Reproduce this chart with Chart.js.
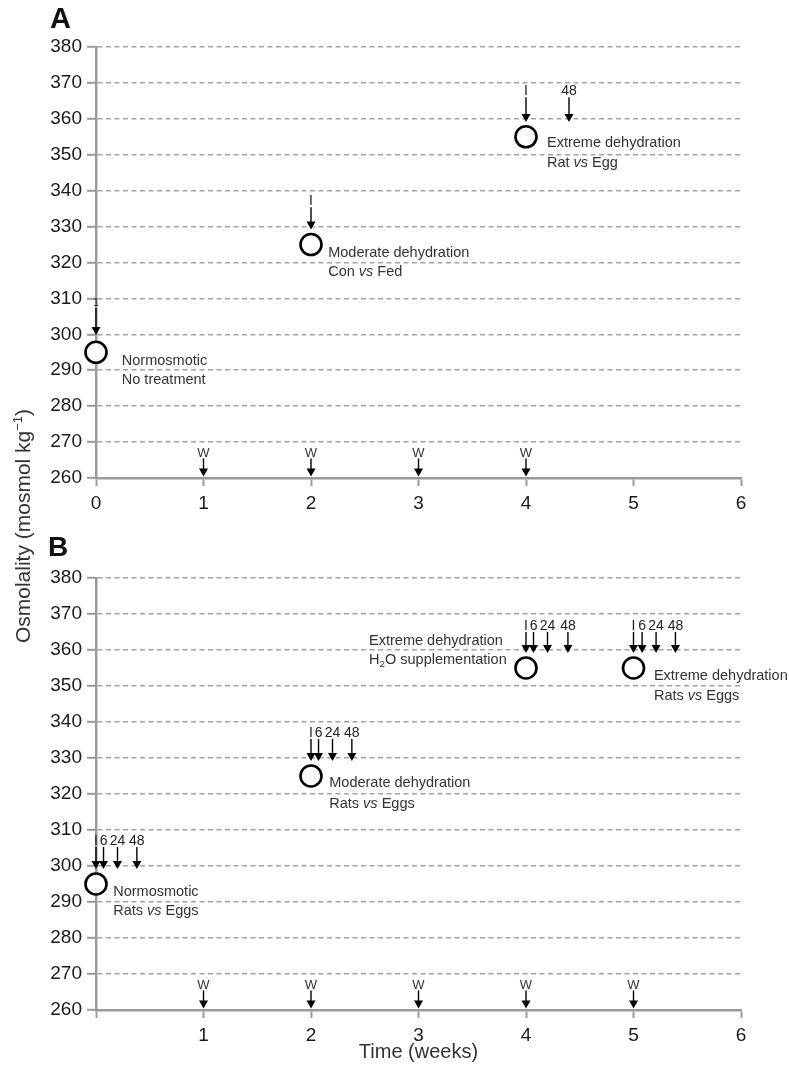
<!DOCTYPE html>
<html>
<head>
<meta charset="utf-8">
<script src="https://cdn.jsdelivr.net/npm/chart.js@4.4.1/dist/chart.umd.min.js"></script>
<style>
  body { margin: 0; background: #fff; }
  #wrap { position: relative; width: 789px; height: 1070px; font-family: "Liberation Sans", Arial, sans-serif; }
  canvas { position: absolute; left: 0; }
  #chartA { top: 0; }
  #chartB { top: 530px; }
  .panel { position: absolute; font-weight: bold; line-height: 1; color: #111; }
  #ytitle { position: absolute; left: 22px; top: 526px; transform: translate(-50%, -50%) rotate(-90deg);
            white-space: nowrap; font-size: 21px; color: #333; }
  #ytitle sup { font-size: 13px; }
</style>
</head>
<body>
<div id="wrap">
  <canvas id="chartA" width="789" height="530"></canvas>
  <canvas id="chartB" width="789" height="540"></canvas>
  <div class="panel" style="left:50px; top:4px; font-size:29px;">A</div>
  <div class="panel" style="left:48px; top:533px; font-size:28px;">B</div>
  <div id="ytitle">Osmolality (mosmol kg<sup>−1</sup>)</div>
</div>
<script>
Chart.defaults.font.family = '"Liberation Sans", Arial, sans-serif';
Chart.defaults.color = "#1a1a1a";

// axes
const weekTicks = [0, 1, 2, 3, 4, 5, 6];
const osmTicks = [260, 270, 280, 290, 300, 310, 320, 330, 340, 350, 360, 370, 380];

// panel A: sampling points
const pointsA_week = [0, 2, 4];
const pointsA_osm = [295, 325, 355];
// panel A: arrows (I = injection, 48 h)
const arrowsA_week = [0, 2, 4, 4.4];
const arrowsA_top = [307.3, 335.4, 366, 366];
const arrowsA_tip = [299.8, 329.2, 359.1, 359.1];
const arrowsA_label = ["1", "I", "I", "48"];
// panel A: weighing arrows
const waterA_week = [1, 2, 3, 4];
// panel A: notes
const notesA_week = [0.24, 0.24, 2.16, 2.16, 4.195, 4.195];
const notesA_osm = [292.6, 287.3, 322.65, 317.4, 353.3, 347.7];
const notesA_text = ["Normosmotic", "No treatment", "Moderate dehydration", "Con *vs* Fed",
                     "Extreme dehydration", "Rat *vs* Egg"];

// panel B: sampling points
const pointsB_week = [0, 2, 4, 5];
const pointsB_osm = [295, 325, 355, 355];
// panel B: arrows
const arrowsB_week = [0, 0.07, 0.2, 0.38, 2, 2.07, 2.2, 2.38, 4, 4.07, 4.2, 4.39, 5, 5.08, 5.21, 5.39];
const arrowsB_top = [305.3, 305.3, 305.3, 305.3, 335.3, 335.3, 335.3, 335.3,
                     365, 365, 365, 365, 365, 365, 365, 365];
const arrowsB_tip = [299.2, 299.2, 299.2, 299.2, 329.2, 329.2, 329.2, 329.2,
                     359.2, 359.2, 359.2, 359.2, 359.2, 359.2, 359.2, 359.2];
const arrowsB_label = ["I", "6", "24", "48", "I", "6", "24", "48",
                       "I", "6", "24", "48", "I", "6", "24", "48"];
const waterB_week = [1, 2, 3, 4, 5];
const notesB_week = [0.16, 0.16, 2.17, 2.17, 2.54, 2.54, 5.19, 5.19];
const notesB_osm = [292.8, 287.5, 323.1, 317.2, 362.5, 357.2, 352.8, 347.2];
const notesB_text = ["Normosmotic", "Rats *vs* Eggs", "Moderate dehydration", "Rats *vs* Eggs",
                     "Extreme dehydration", "H_2_O supplementation", "Extreme dehydration", "Rats *vs* Eggs"];

// weighing arrow span
const waterTop = 266;
const waterTip = 260.4;

const FONT = '"Liberation Sans", Arial, sans-serif';

function drawRich(ctx, text, x, y, size) {
  // *..* italic, _.._ subscript
  const parts = text.split(/(\*[^*]+\*|_[^_]+_)/).filter(Boolean);
  let cx = x;
  parts.forEach((part) => {
    let style = "";
    let sz = size;
    let dy = 0;
    let t = part;
    if (part[0] === "*") {
      style = "italic ";
      t = part.slice(1, -1);
    } else if (part[0] === "_") {
      sz = size * 0.68;
      dy = size * 0.28;
      t = part.slice(1, -1);
    }
    ctx.font = `${style}${sz}px ${FONT}`;
    ctx.fillText(t, cx, y + dy);
    cx += ctx.measureText(t).width;
  });
}

function drawArrow(ctx, px, pTop, pTip) {
  const headH = 8;
  const headW = 4.5;
  ctx.beginPath();
  ctx.moveTo(px, pTop);
  ctx.lineTo(px, pTip - headH + 1);
  ctx.stroke();
  ctx.beginPath();
  ctx.moveTo(px - headW, pTip - headH);
  ctx.lineTo(px + headW, pTip - headH);
  ctx.lineTo(px, pTip);
  ctx.closePath();
  ctx.fill();
}

const annotate = {
  id: "annotate",
  afterDatasetsDraw(chart, args, opts) {
    const { ctx } = chart;
    const x = chart.scales.x;
    const y = chart.scales.y;
    ctx.save();
    ctx.strokeStyle = "#000";
    ctx.fillStyle = "#000";
    ctx.lineWidth = 1.4;

    opts.arrowWeek.forEach((w, i) => {
      const px = x.getPixelForValue(w);
      const top = y.getPixelForValue(opts.arrowTop[i]);
      drawArrow(ctx, px, top, y.getPixelForValue(opts.arrowTip[i]));
      ctx.fillStyle = "#222";
      ctx.font = (opts.arrowLabel[i] === "1" ? "10px " : "14px ") + FONT;
      ctx.textAlign = "center";
      ctx.textBaseline = "alphabetic";
      ctx.fillText(opts.arrowLabel[i], px, top - 2);
      ctx.fillStyle = "#000";
    });

    opts.waterWeek.forEach((w) => {
      const px = x.getPixelForValue(w);
      const top = y.getPixelForValue(waterTop) + 2;
      drawArrow(ctx, px, top, y.getPixelForValue(waterTip));
      ctx.fillStyle = "#333";
      ctx.font = "13px " + FONT;
      ctx.textAlign = "center";
      ctx.textBaseline = "alphabetic";
      ctx.fillText("W", px, top - 1);
      ctx.fillStyle = "#000";
    });

    ctx.fillStyle = "#333";
    ctx.textAlign = "left";
    ctx.textBaseline = "middle";
    opts.noteWeek.forEach((w, i) => {
      drawRich(ctx, opts.noteText[i], x.getPixelForValue(w), y.getPixelForValue(opts.noteOsm[i]), 14.5);
    });
    ctx.restore();
  },
};

function makeChart(id, pw, po, extra, showZero, xHeight, title) {
  return new Chart(document.getElementById(id), {
    type: "scatter",
    data: {
      datasets: [{
        data: pw.map((w, i) => ({ x: w, y: po[i] })),
        pointRadius: 10.5,
        pointHoverRadius: 10.5,
        pointBorderWidth: 2.6,
        pointBorderColor: "#000",
        pointBackgroundColor: "#fff",
        clip: false,
      }],
    },
    options: {
      responsive: false,
      animation: false,
      events: [],
      layout: { padding: { left: 0, right: 48, top: extra.padTop, bottom: 0 } },
      plugins: {
        legend: { display: false },
        tooltip: { enabled: false },
        annotate: extra,
      },
      scales: {
        x: {
          type: "linear",
          min: 0,
          max: 6,
          afterBuildTicks: (s) => { s.ticks = weekTicks.map((v) => ({ value: v })); },
          afterFit: (s) => { s.height = xHeight; },
          ticks: {
            font: { size: 19 },
            padding: 6,
            color: "#1a1a1a",
            callback: (v) => (v === 0 && !showZero ? "" : String(v)),
          },
          grid: { drawOnChartArea: false, tickLength: 8, tickWidth: 2, tickColor: "#9a9a9a" },
          border: { color: "#9a9a9a", width: 2.5 },
          title: {
            display: !!title,
            text: title || "",
            font: { size: 20 },
            color: "#333",
            padding: { top: 0, bottom: 6 },
          },
        },
        y: {
          type: "linear",
          min: 260,
          max: 380,
          afterBuildTicks: (s) => { s.ticks = osmTicks.map((v) => ({ value: v })); },
          afterFit: (s) => { s.width = 96; },
          ticks: { font: { size: 19 }, padding: 5, color: "#1a1a1a" },
          grid: {
            color: "#a3a3a3",
            lineWidth: 1.6,
            tickLength: 9,
            tickWidth: 2,
            tickColor: "#9a9a9a",
            tickBorderDash: [],
          },
          border: { color: "#9a9a9a", width: 2.5, dash: [5, 3.5] },
        },
      },
    },
    plugins: [annotate],
  });
}

makeChart("chartA", pointsA_week, pointsA_osm, {
  padTop: 47,
  arrowWeek: arrowsA_week, arrowTop: arrowsA_top, arrowTip: arrowsA_tip, arrowLabel: arrowsA_label,
  waterWeek: waterA_week,
  noteWeek: notesA_week, noteOsm: notesA_osm, noteText: notesA_text,
}, true, 52, null);

makeChart("chartB", pointsB_week, pointsB_osm, {
  padTop: 48,
  arrowWeek: arrowsB_week, arrowTop: arrowsB_top, arrowTip: arrowsB_tip, arrowLabel: arrowsB_label,
  waterWeek: waterB_week,
  noteWeek: notesB_week, noteOsm: notesB_osm, noteText: notesB_text,
}, false, 60, "Time (weeks)");
</script>
</body>
</html>
